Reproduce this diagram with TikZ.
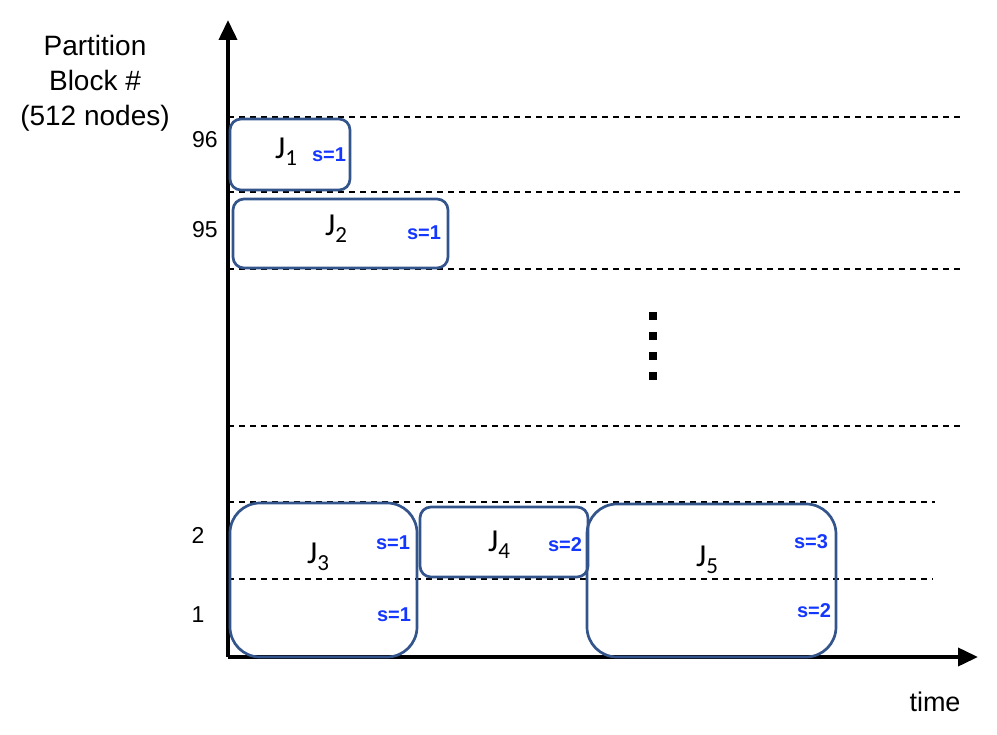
\documentclass[tikz,border=0pt]{standalone}
\usepackage{fontspec}
\setmainfont{Liberation Sans}
\newfontfamily\calib{Carlito}
\usetikzlibrary{arrows.meta}
\definecolor{boxblue}{RGB}{52,84,140}
\definecolor{sblue}{RGB}{20,55,255}
\tikzset{
  job/.style={draw=boxblue, line width=2.7pt, fill=none},
  grid/.style={dashed, dash pattern=on 6pt off 5pt, line width=1.5pt},
  axis/.style={line width=3.8pt, -{Triangle[length=20pt,width=18pt]}},
  slab/.style={font=\fontsize{20}{20}\selectfont\bfseries, text=sblue, inner sep=0pt},
  jlab/.style={font=\calib\fontsize{32}{32}\selectfont, inner sep=0pt},
  ylab/.style={font=\fontsize{23}{23}\selectfont, inner sep=0pt},
}
\newcommand{\jj}[1]{J\raisebox{-7pt}{\fontsize{23}{23}\selectfont #1}}
\begin{document}
\begin{tikzpicture}[x=1pt,y=-1pt]
\useasboundingbox (0,0) rectangle (997,735);
% grid lines
\foreach \yy in {117,192,269,426}{
  \draw[grid] (228,\yy) -- (962,\yy);
}
\draw[grid] (228,502) -- (935,502);
\draw[grid] (228,579) -- (933,579);
% axes
\coordinate (o) at (228,657);
\coordinate (ytip) at (228,20);
\coordinate (xtip) at (978,657);
\draw[axis] (o) -- (ytip);
\draw[axis] (o) -- (xtip);
% jobs
\draw[job, rounded corners=11pt] (230,119) rectangle (350,190);
\draw[job, rounded corners=11pt] (233,199) rectangle (448,268);
\draw[job, rounded corners=30pt] (230,503) rectangle (417,657);
\draw[job, rounded corners=11pt] (420,507) rectangle (588,577);
\draw[job, rounded corners=30pt] (587,504) rectangle (836,657);
% dots
\foreach \yy in {316,336,356,376}{
  \fill (649,\yy-4) rectangle (657,\yy+4);
}
% labels
\node[font=\fontsize{28}{35}\selectfont, align=center] (ttl) at (95,83) {Partition\\Block \#\\(512 nodes)};
\node[ylab] (l96) at (205,140) {96};
\node[ylab] (l95) at (205,230) {95};
\node[ylab] (l2) at (198,535) {2};
\node[ylab] (l1) at (198,615) {1};
\node[font=\fontsize{27}{27}\selectfont] (time) at (935,702) {time};
\node[jlab, anchor=base west] (j1) at (275,159) {\jj{1}};
\node[jlab, anchor=base west] (j2) at (325,236) {\jj{2}};
\node[jlab, anchor=base west] (j3) at (307,563) {\jj{3}};
\node[jlab, anchor=base west] (j4) at (488,551) {\jj{4}};
\node[jlab, anchor=base west] (j5) at (696,566) {\jj{5}};
\node[slab] (s1) at (329,155) {s=1};
\node[slab] (s2) at (424,233) {s=1};
\node[slab] (s3a) at (393,543) {s=1};
\node[slab] (s3b) at (394,615) {s=1};
\node[slab] (s4) at (565,545) {s=2};
\node[slab] (s5a) at (811,542) {s=3};
\node[slab] (s5b) at (814,611) {s=2};
\end{tikzpicture}
\end{document}
